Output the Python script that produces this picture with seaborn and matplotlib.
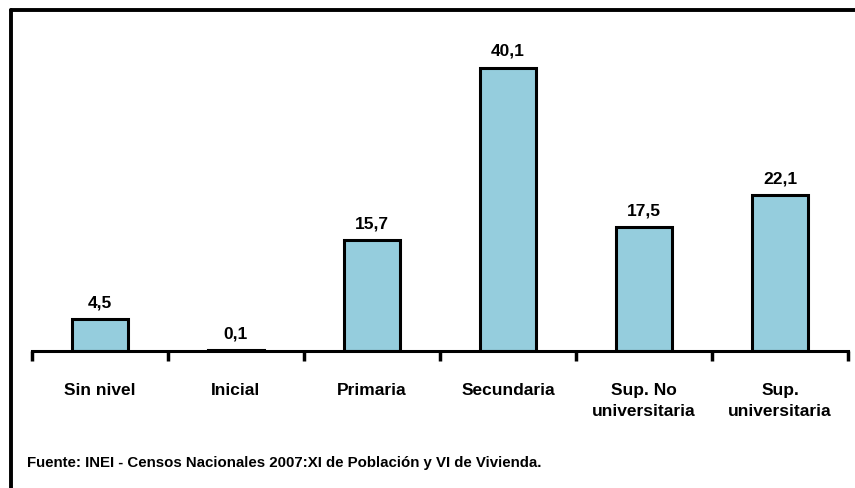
import matplotlib
matplotlib.use("Agg")
import matplotlib.pyplot as plt
from matplotlib.lines import Line2D
import pandas as pd
import seaborn as sns

# data
niveles = ["Sin nivel", "Inicial", "Primaria", "Secundaria",
           "Sup. No\nuniversitaria", "Sup.\nuniversitaria"]
porcentajes = [4.5, 0.1, 15.7, 40.1, 17.5, 22.1]
etiquetas = ["4,5", "0,1", "15,7", "40,1", "17,5", "22,1"]
fuente = "Fuente: INEI - Censos Nacionales 2007:XI de Población y VI de Vivienda."

bar_color = "#95CDDD"

sns.set_style("white")
plt.rcParams['font.family'] = ['Liberation Sans', 'DejaVu Sans']
plt.rcParams['text.color'] = 'black'
plt.rcParams['xtick.color'] = 'black'
plt.rcParams['xtick.labelcolor'] = 'black'

df = pd.DataFrame({'nivel': niveles, 'pct': porcentajes})

fig = plt.figure(figsize=(8.55, 4.89), dpi=100)
ax = fig.add_axes([32 / 855, 137 / 489, 816 / 855, 1 - 137 / 489 - 34 / 489])

sns.barplot(data=df, x='nivel', y='pct', color=bar_color, width=0.41,
            edgecolor='black', linewidth=2.2, saturation=1, ax=ax)

ax.set_xlim(-0.5, 5.5)
ax.set_ylim(0, 45)

# value labels
for i, (v, lab) in enumerate(zip(porcentajes, etiquetas)):
    ax.annotate(lab, (i, v), xytext=(0, 7), textcoords='offset points',
                ha='center', va='bottom', fontsize=12.5, fontweight='bold',
                color='black')

# only the bottom axis line, ticks at the category boundaries
for s in ['top', 'right', 'left']:
    ax.spines[s].set_visible(False)
ax.spines['bottom'].set_linewidth(2.2)
ax.spines['bottom'].set_color('black')
ax.set_yticks([])
ax.set_xticks(range(len(niveles)))
ax.set_xticklabels(niveles, fontsize=12.5, fontweight='bold', linespacing=1.5, va='top')
ax.tick_params(axis='x', which='major', bottom=True, length=0, pad=22)
ax.set_xticks([i - 0.5 for i in range(len(niveles) + 1)], minor=True)
ax.tick_params(axis='x', which='minor', bottom=True, length=7, width=2.5,
               direction='out', color='black')
ax.set_xlabel('')
ax.set_ylabel('')

# source note
fig.text(27 / 855, 1 - 463 / 489, fuente, fontsize=10.8, fontweight='bold', va='center')

# frame: only left and top lines
fig.add_artist(Line2D([11 / 855, 11 / 855], [0, 1 - 10.5 / 489], color='black', lw=2.8))
fig.add_artist(Line2D([11 / 855, 1], [1 - 10.5 / 489, 1 - 10.5 / 489], color='black', lw=2.8))

fig.savefig('out.png', dpi=100)
